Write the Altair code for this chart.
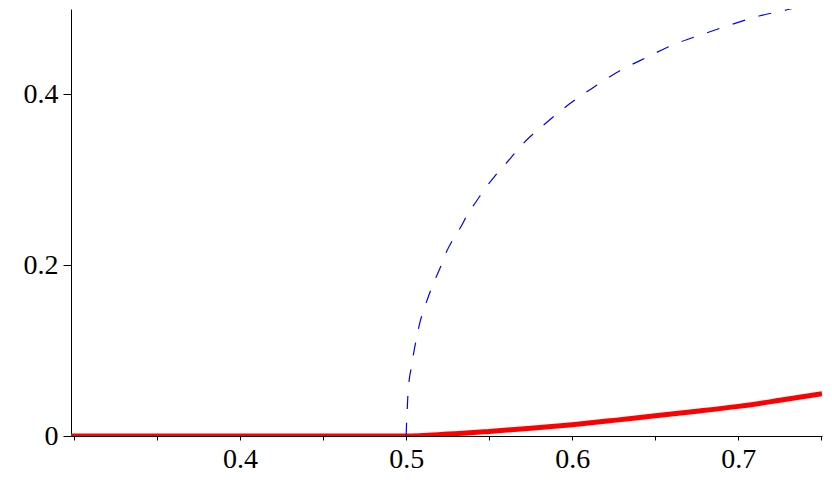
import altair as alt
import pandas as pd

# Blue dashed curve
blue_x = [0.5, 0.5002, 0.5006, 0.501, 0.5018, 0.5032, 0.5046, 0.5063, 0.5083, 0.5108,
          0.5139, 0.5169, 0.5207, 0.5239, 0.5283, 0.5328, 0.5373, 0.5424, 0.5476, 0.5532,
          0.5595, 0.5709, 0.5844, 0.5984, 0.6134, 0.6284, 0.6445, 0.6615, 0.6785, 0.6945,
          0.7126, 0.7306, 0.7362]
blue_y = [0.0, 0.012, 0.0296, 0.0457, 0.0648, 0.0808, 0.098, 0.1148, 0.1331, 0.1487,
          0.166, 0.181, 0.198, 0.214, 0.2304, 0.2444, 0.2608, 0.2752, 0.29, 0.3037,
          0.3177, 0.3433, 0.3668, 0.389, 0.409, 0.4274, 0.443, 0.4587, 0.4704, 0.481,
          0.4918, 0.4997, 0.5028]

# Red thick curve
red_x = [0.2982, 0.5, 0.525, 0.55, 0.575, 0.6, 0.625, 0.65, 0.675, 0.7, 0.725, 0.7504]
red_y = [0.0, 0.0, 0.0022, 0.0054, 0.009, 0.0132, 0.0183, 0.0238, 0.029, 0.0347, 0.0418, 0.0494]

x_ticks = [0.3, 0.35, 0.4, 0.45, 0.5, 0.55, 0.6, 0.65, 0.7, 0.75]
y_ticks = [0.0, 0.2, 0.4]

blue_df = pd.DataFrame({"x": blue_x, "y": blue_y})
red_df = pd.DataFrame({"x": red_x, "y": red_y})

FONT = "Liberation Serif"

xscale = alt.Scale(domain=[0.2982, 0.7504], nice=False, zero=False)
yscale = alt.Scale(domain=[0, 0.5], nice=False)

xaxis = alt.Axis(
    values=x_ticks, title=None, grid=False, tickSize=4, tickColor="black",
    domainColor="black", labelColor="black", labelFont=FONT, labelFontSize=28,
    labelPadding=5, labelFlush=False, labelOverlap=False,
    labelExpr="(datum.value > 0.38 && datum.value < 0.72 && abs(datum.value*10 - round(datum.value*10)) < 0.01) ? format(datum.value, '.1f') : ''",
)
yaxis = alt.Axis(
    values=y_ticks, title=None, grid=False, tickSize=8, tickColor="black",
    domainColor="black", labelColor="black", labelFont=FONT, labelFontSize=28,
    labelPadding=5, labelFlush=False, labelOverlap=False,
    labelExpr="datum.value == 0 ? '0' : format(datum.value, '.1f')",
)

red = alt.Chart(red_df).mark_line(color="#ff0000", strokeWidth=5, interpolate="monotone", clip=True).encode(
    x=alt.X("x:Q", scale=xscale, axis=xaxis),
    y=alt.Y("y:Q", scale=yscale, axis=yaxis),
)
blue = alt.Chart(blue_df).mark_line(color="#0000ff", strokeWidth=1.2, strokeDash=[13, 14],
                                     interpolate="monotone", clip=True).encode(
    x=alt.X("x:Q", scale=xscale),
    y=alt.Y("y:Q", scale=yscale),
)

chart = alt.layer(red, blue).properties(
    width=751, height=427,
    autosize=alt.AutoSizeParams(type="none"),
    padding={"left": 63, "top": 1, "right": 2, "bottom": 54},
    background="white",
).configure_view(stroke=None).configure_axis(domainWidth=1, tickWidth=1)

chart.save("out.html", embed_options={"renderer": "svg", "actions": False})
